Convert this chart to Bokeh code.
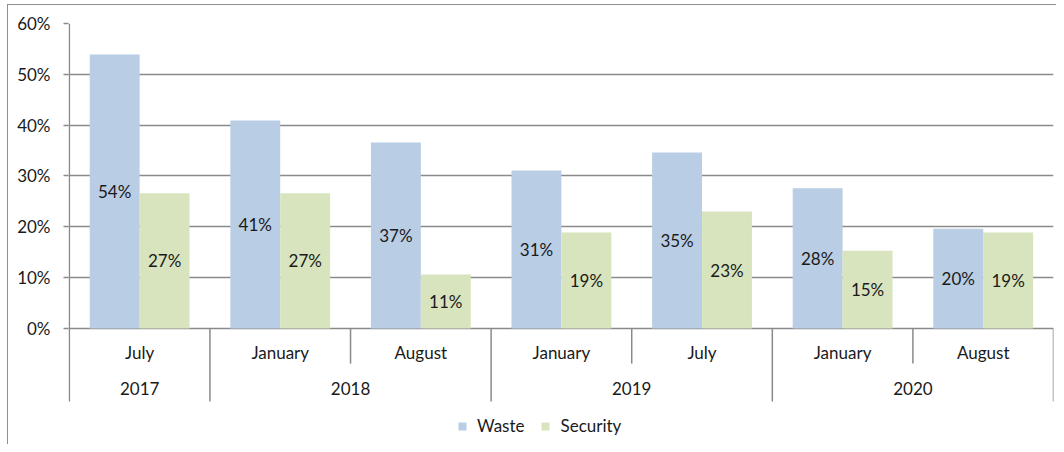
from bokeh.plotting import figure
from bokeh.models import (ColumnDataSource, Range1d, FixedTicker, CustomJSTickFormatter,
                          Legend, LegendItem, LabelSet)
from bokeh.core.properties import value
from bokeh.embed import file_html
from bokeh.resources import INLINE

# ---- data ----
months = ["July", "January", "August", "January", "July", "January", "August"]
years = ["2017", "2018", "2019", "2020"]
year_spans = [1, 2, 2, 2]          # number of months under each year
waste = [53.9, 40.9, 36.6, 31.1, 34.6, 27.6, 19.6]
security = [26.6, 26.6, 10.6, 18.9, 23.0, 15.3, 18.9]
series_names = ["Waste", "Security"]
y_ticks = [0, 10, 20, 30, 40, 50, 60]

FONT = "Lato"
FS = "17px"
TXT = "#1a1a1a"
GRID = "#8a8a8a"
C_WASTE = "#B9CDE5"
C_SEC = "#D7E4BD"

n = len(months)
centers = [i + 0.5 for i in range(n)]
bw = 0.355
off = bw / 2

src = ColumnDataSource(dict(
    xw=[c - off for c in centers],
    xs=[c + off for c in centers],
    waste=waste, security=security,
    wmid=[v / 2 for v in waste], smid=[v / 2 for v in security],
    wlab=[f"{round(v)}%" for v in waste], slab=[f"{round(v)}%" for v in security],
))

AX_MIN = -14.36     # bottom of the category-axis dividers
YMIN = -22.82       # frame extends down to hold the legend
p = figure(width=1056, height=444, output_backend="svg", toolbar_location=None,
           x_range=Range1d(-0.006, n), y_range=Range1d(YMIN, 60),
           min_border_left=68, min_border_right=3, min_border_top=23, min_border_bottom=0)
p.outline_line_color = None
p.border_fill_alpha = 0
# thin outer chart-area border (left and top edges), painted behind the canvas
p.styles = {"background": "linear-gradient(#8f8f8f, #8f8f8f) 7px 4px / 1px 100% no-repeat, "
                          "linear-gradient(#8f8f8f, #8f8f8f) 7px 4px / 100% 1px no-repeat, #ffffff"}
p.xaxis.visible = False
p.xgrid.visible = False

# y axis
p.yaxis.ticker = FixedTicker(ticks=y_ticks)
p.yaxis.formatter = CustomJSTickFormatter(code="return tick.toFixed(0) + '%';")
p.yaxis.axis_line_color = None
p.yaxis.major_tick_line_color = GRID
p.yaxis.major_tick_line_width = 1.5
p.yaxis.major_tick_out = 5
p.yaxis.major_tick_in = 0
p.yaxis.minor_tick_line_color = None
p.yaxis.major_label_standoff = 13
p.yaxis.major_label_text_font = FONT
p.yaxis.major_label_text_font_size = FS
p.yaxis.major_label_text_color = TXT
p.ygrid.ticker = FixedTicker(ticks=y_ticks)
p.ygrid.grid_line_color = GRID
p.ygrid.grid_line_width = 1.5

# bars
rw = p.vbar(x="xw", top="waste", bottom=0, width=bw, source=src, fill_color=C_WASTE, line_color=None)
rs = p.vbar(x="xs", top="security", bottom=0, width=bw, source=src, fill_color=C_SEC, line_color=None)

# data labels
for xcol, ycol, tcol in [("xw", "wmid", "wlab"), ("xs", "smid", "slab")]:
    p.add_layout(LabelSet(x=xcol, y=ycol, text=tcol, source=src, text_align="center",
                          text_baseline="middle", text_font=value(FONT), text_font_size=FS,
                          text_color=TXT))

# category axis (two levels) drawn in the data space below 0
p.text(x=centers, y=[-4.72] * n, text=months, text_align="center", text_baseline="middle",
       text_font=value(FONT), text_font_size=FS, text_color=TXT)
ystarts = []
acc = 0
for s in year_spans:
    ystarts.append(acc)
    acc += s
ycenters = [a + s / 2 for a, s in zip(ystarts, year_spans)]
p.text(x=ycenters, y=[-11.8] * len(years), text=years, text_align="center", text_baseline="middle",
       text_font=value(FONT), text_font_size=FS, text_color=TXT)

year_bounds = set(ystarts + [n])
short_x = [i for i in range(1, n) if i not in year_bounds]
long_x = sorted(year_bounds)
p.segment(x0=short_x, x1=short_x, y0=[0] * len(short_x), y1=[-6.9] * len(short_x),
          line_color=GRID, line_width=1.5)
p.segment(x0=long_x, x1=long_x, y0=[0] * len(long_x), y1=[AX_MIN] * len(long_x),
          line_color=GRID, line_width=1.5)
# vertical axis line
p.segment(x0=[0], x1=[0], y0=[60], y1=[0], line_color=GRID, line_width=1.5)

legend = Legend(items=[LegendItem(label=series_names[0], renderers=[rw]),
                       LegendItem(label=series_names[1], renderers=[rs])],
                orientation="horizontal", location=(389, 8),
                label_text_font=FONT, label_text_font_size=FS, label_text_color=TXT,
                glyph_width=10, glyph_height=10, label_standoff=10, spacing=16,
                border_line_color=None, background_fill_alpha=0, padding=0, margin=0)
p.add_layout(legend)

open("out.html", "w").write(file_html(p, INLINE))
